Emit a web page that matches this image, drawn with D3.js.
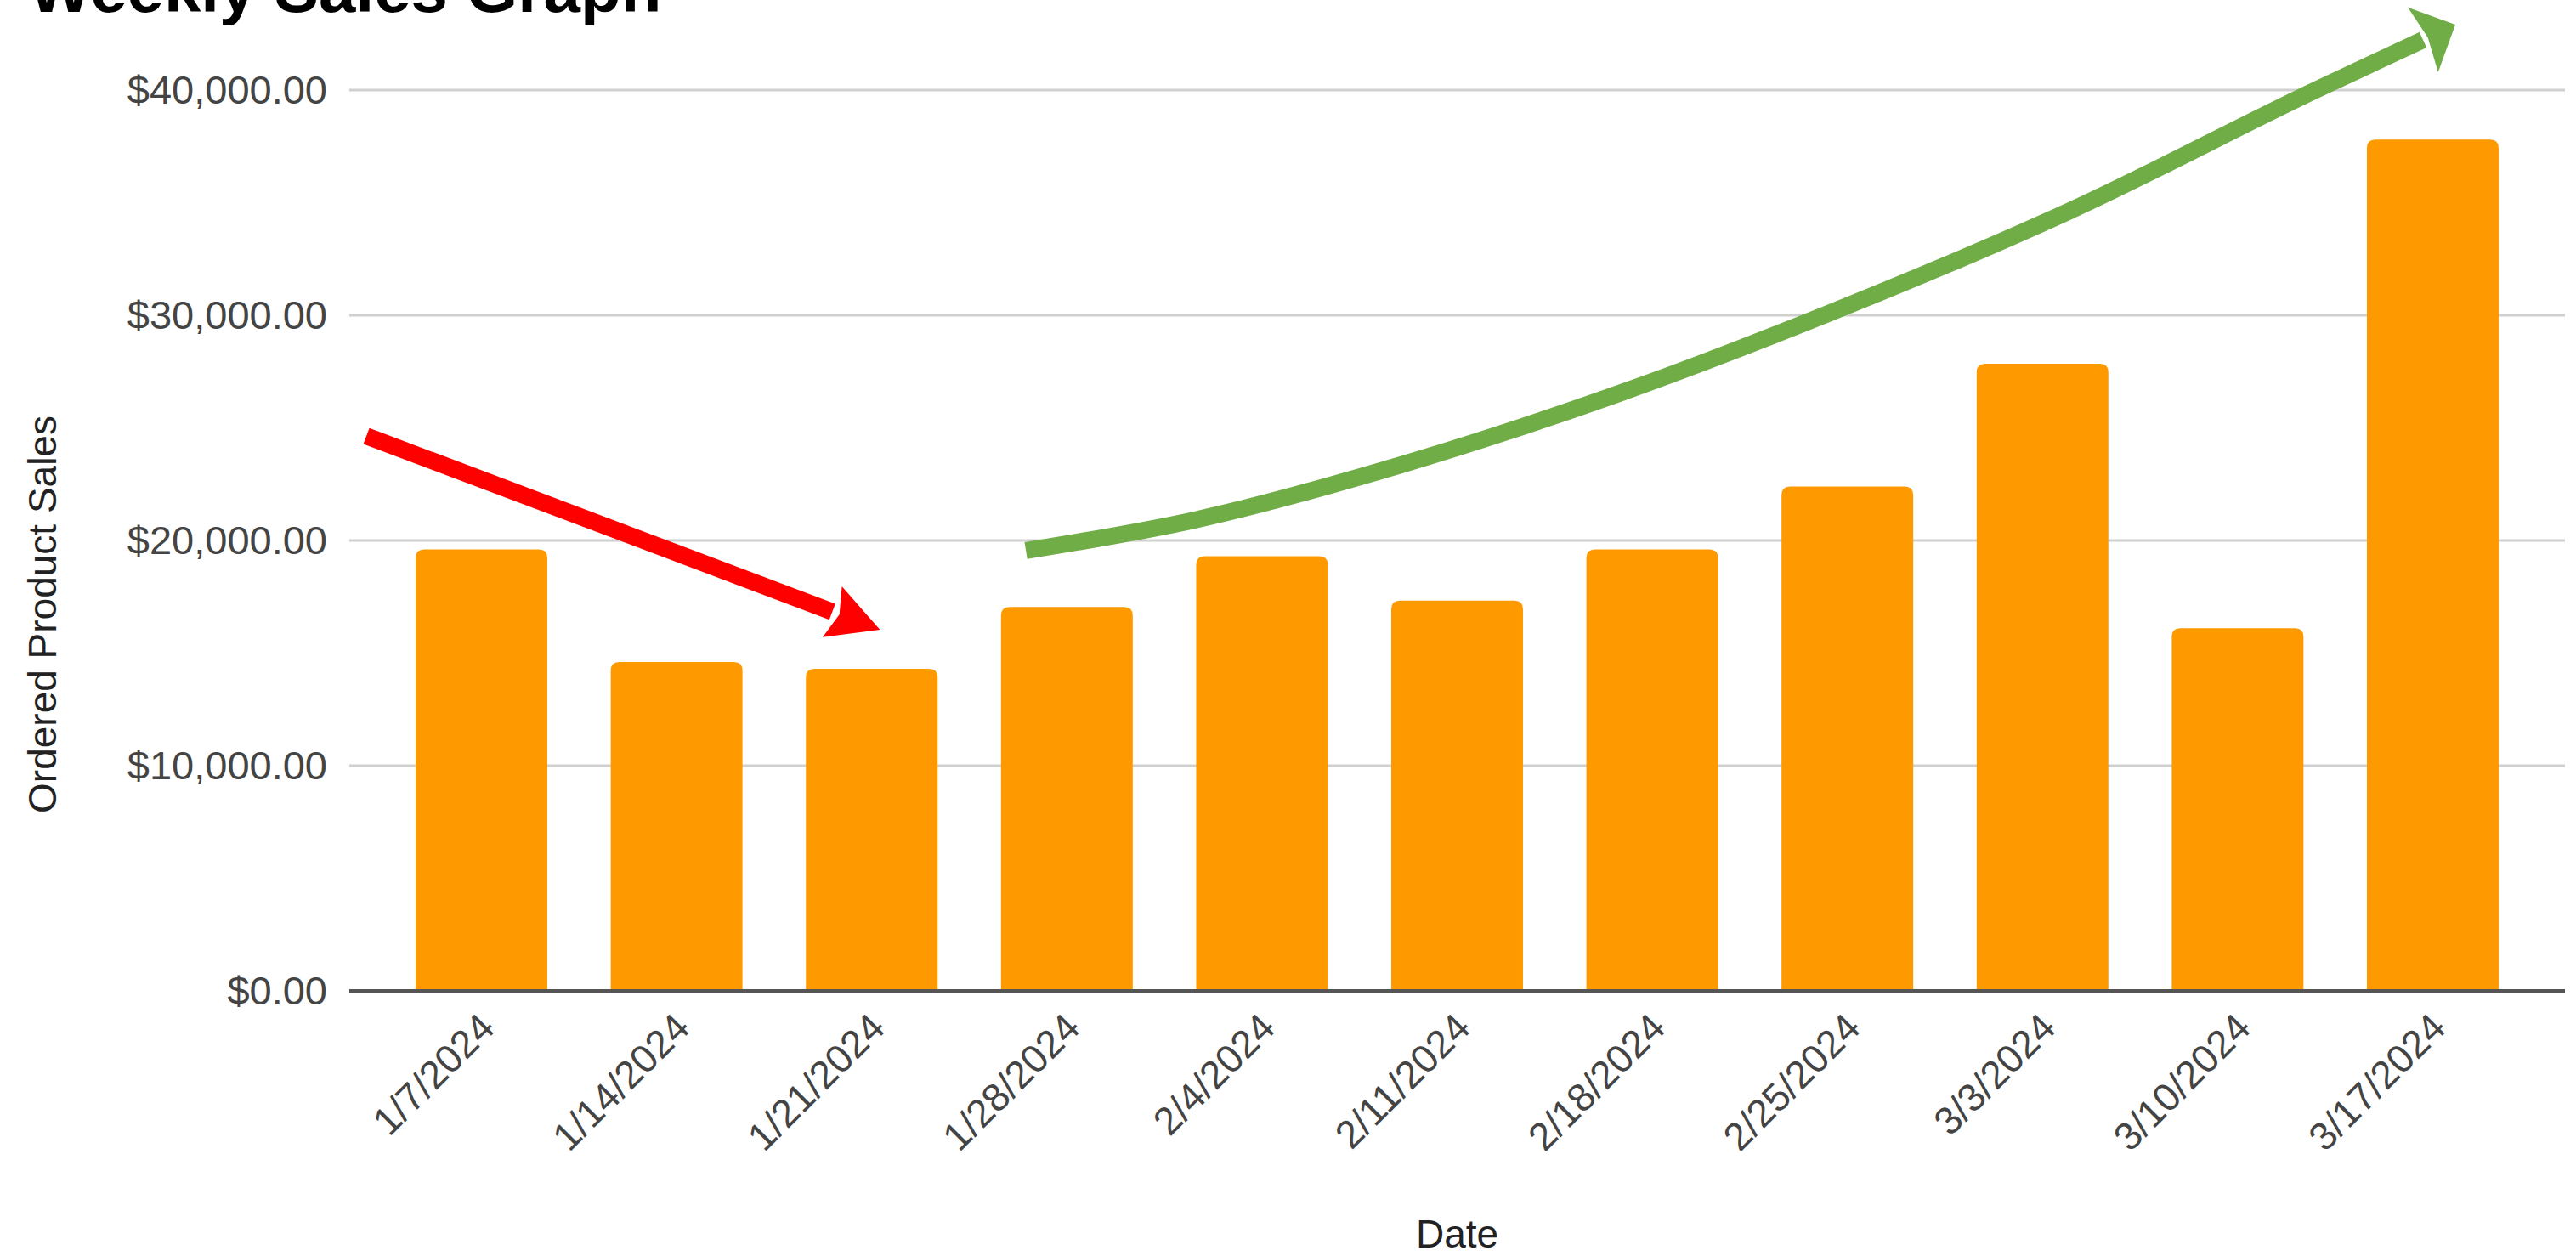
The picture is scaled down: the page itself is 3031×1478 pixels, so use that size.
<!DOCTYPE html>
<html>
<head>
<meta charset="utf-8">
<script src="https://cdn.jsdelivr.net/npm/d3@7"></script>
<style>
  body { margin: 0; background: #fff; }
  svg text { font-family: "Liberation Sans", Arial, sans-serif; }
</style>
</head>
<body>
<div id="chart"></div>
<script>
// data
var dates = ["1/7/2024", "1/14/2024", "1/21/2024", "1/28/2024", "2/4/2024", "2/11/2024",
             "2/18/2024", "2/25/2024", "3/3/2024", "3/10/2024", "3/17/2024"];
var sales = [19600, 14600, 14300, 17050, 19300, 17330, 19600, 22400, 27850, 16100, 37800];
var yTicks = [0, 10000, 20000, 30000, 40000];

// annotation arrows, as [bar index, value]
var redArrow = [[-0.59, 24640], [2.03, 16075]];
var greenArrow = [[2.79, 19550], [3.65, 20900], [4.74, 23430], [5.83, 26530], [6.88, 30000],
                  [8.14, 34640], [9.40, 40000], [9.95, 42230]];

var W = 3031, H = 1478;
var margin = {top: 106, right: 13, bottom: 312, left: 411};

var svg = d3.select("#chart")
  .append("svg")
    .attr("width", W)
    .attr("height", H);

var x = d3.scaleBand()
  .domain(dates)
  .range([margin.left, W - margin.right])
  .paddingInner(0.325)
  .paddingOuter(0.34);

var y = d3.scaleLinear()
  .domain([0, 40000])
  .range([H - margin.bottom, margin.top]);

// bar index -> bar centre, used for the arrows
var xi = d3.scaleLinear()
  .domain([0, dates.length - 1])
  .range([x(dates[0]) + x.bandwidth() / 2, x(dates[dates.length - 1]) + x.bandwidth() / 2]);

// title (cut off at the top like the original)
svg.append("text")
  .attr("x", 34)
  .attr("y", 14)
  .attr("font-size", 78)
  .attr("font-weight", "bold")
  .attr("fill", "#000")
  .text("Weekly Sales Graph");

// gridlines
svg.append("g")
  .selectAll("line")
  .data(yTicks.filter(function(d) { return d > 0; }))
  .enter()
  .append("line")
    .attr("x1", margin.left)
    .attr("x2", W - margin.right)
    .attr("y1", function(d) { return y(d); })
    .attr("y2", function(d) { return y(d); })
    .attr("stroke", "#d0d0d0")
    .attr("stroke-width", 3);

// y tick labels
var fmt = d3.format("$,.2f");
svg.append("g")
  .selectAll("text")
  .data(yTicks)
  .enter()
  .append("text")
    .attr("x", margin.left - 26)
    .attr("y", function(d) { return y(d); })
    .attr("dy", "0.35em")
    .attr("text-anchor", "end")
    .attr("font-size", 47)
    .attr("fill", "#444")
    .text(function(d) { return fmt(d); });

// bars with rounded top corners
function barPath(d, i) {
  var x0 = x(dates[i]), w = x.bandwidth(), y0 = y(d), y1 = y(0), r = 10;
  return "M" + x0 + "," + y1 +
    "V" + (y0 + r) +
    "Q" + x0 + "," + y0 + " " + (x0 + r) + "," + y0 +
    "H" + (x0 + w - r) +
    "Q" + (x0 + w) + "," + y0 + " " + (x0 + w) + "," + (y0 + r) +
    "V" + y1 + "Z";
}
svg.append("g")
  .selectAll("path")
  .data(sales)
  .enter()
  .append("path")
    .attr("d", barPath)
    .attr("fill", "#ff9900");

// baseline
svg.append("line")
  .attr("x1", margin.left)
  .attr("x2", W - margin.right)
  .attr("y1", y(0))
  .attr("y2", y(0))
  .attr("stroke", "#555")
  .attr("stroke-width", 4);

// x tick labels, rotated
svg.append("g")
  .selectAll("text")
  .data(dates)
  .enter()
  .append("text")
    .attr("transform", function(d) {
      return "translate(" + (x(d) + x.bandwidth() / 2 + 18) + "," + (y(0) + 46) + ") rotate(-45)";
    })
    .attr("text-anchor", "end")
    .attr("font-size", 46)
    .attr("fill", "#444")
    .text(function(d) { return d; });

// axis titles
svg.append("text")
  .attr("x", (margin.left + W - margin.right) / 2)
  .attr("y", 1468)
  .attr("text-anchor", "middle")
  .attr("font-size", 46)
  .attr("fill", "#222")
  .text("Date");

svg.append("text")
  .attr("transform", "translate(66,723) rotate(-90)")
  .attr("text-anchor", "middle")
  .attr("font-size", 46)
  .attr("fill", "#222")
  .text("Ordered Product Sales");

// arrow helper: shaft through pts, head on the end
function arrow(pts, color, width, headLen, headHalf, curve) {
  var p = pts.map(function(d) { return [xi(d[0]), y(d[1])]; });
  var n = p.length;
  var end = p[n - 1], prev = p[n - 2];
  var dx = end[0] - prev[0], dy = end[1] - prev[1], len = Math.sqrt(dx * dx + dy * dy);
  var ux = dx / len, uy = dy / len;
  var line = d3.line().curve(curve);
  svg.append("path")
    .attr("d", line(p))
    .attr("fill", "none")
    .attr("stroke", color)
    .attr("stroke-width", width);
  var tip = [end[0] + ux * headLen, end[1] + uy * headLen];
  var a = [end[0] - uy * headHalf, end[1] + ux * headHalf];
  var b = [end[0] + uy * headHalf, end[1] - ux * headHalf];
  var notch = [end[0] + ux * headLen * 0.15, end[1] + uy * headLen * 0.15];
  svg.append("path")
    .attr("d", "M" + [a, tip, b, notch].join("L") + "Z")
    .attr("fill", color);
}

// red arrow ends on its tip, so pull the shaft back by the head length
(function() {
  var p0 = [xi(redArrow[0][0]), y(redArrow[0][1])];
  var p1 = [xi(redArrow[1][0]), y(redArrow[1][1])];
  var dx = p1[0] - p0[0], dy = p1[1] - p0[1], len = Math.sqrt(dx * dx + dy * dy);
  var base = [p1[0] - dx / len * 57, p1[1] - dy / len * 57];
  var pts = [redArrow[0], [xi.invert(base[0]), y.invert(base[1])]];
  arrow(pts, "#ff0000", 20, 60, 32, d3.curveLinear);
})();

arrow(greenArrow, "#70ad47", 20, 42, 42, d3.curveMonotoneX);
</script>
</body>
</html>
